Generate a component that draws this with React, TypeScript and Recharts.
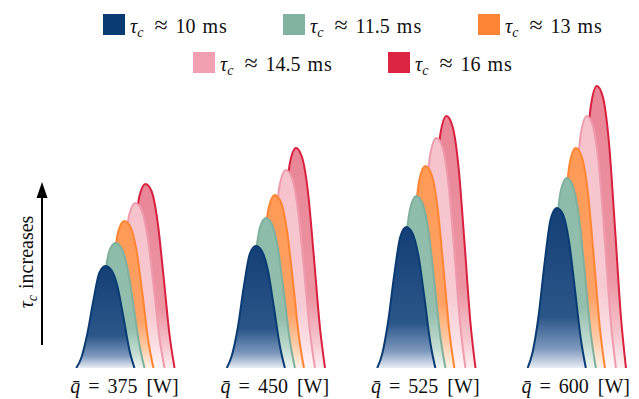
import { ComposedChart, Area, XAxis, YAxis } from "recharts";

// heat load groups (x positions in W)
const GROUPS = [375, 450, 525, 600];

// legend labels / colors, back-to-front order is reversed when drawing
const SERIES = ["10", "11.5", "13", "14.5", "16"];
const STROKES = ["#0b3b73", "#7fb09e", "#ff8533", "#ee9cad", "#d8203f"];
const SWATCH = ["#0b3b73", "#80b3a0", "#fe8536", "#f0a0b0", "#dc2542"];
const FILLS = [
  ["#143f77", "#2a5689", "#7d98bd", "#e8edf4"],
  ["#8dbcaa", "#94bfae", "#c2dcd1", "#f0f6f3"],
  ["#ff9a55", "#ffa266", "#ffcfad", "#fff2e8"],
  ["#f6c2cc", "#f7cad2", "#fbe1e6", "#fff6f8"],
  ["#e98596", "#ec95a3", "#f6c6ce", "#fdf0f2"],
];

// horizontal shift of each tau_c curve from the group position
const SHIFT = [-9.5, -4.5, 0, 5.5, 10.5];
// sample positions across one curve, relative to its peak
const OFFS = [-14.5, -12, -9, -6, -3, 0, 3, 6, 9, 12, 14.5];

// curve heights, [group][tau_c]
const q375 = [
  [0, 10, 34, 67, 95, 102, 98, 82, 51, 18, 0],
  [0, 13, 41, 83, 117, 125, 120, 100, 63, 23, 0],
  [0, 15, 49, 97, 137, 147, 141, 118, 74, 26, 0],
  [0, 17, 54, 109, 154, 165, 158, 132, 83, 30, 0],
  [0, 18, 61, 121, 172, 184, 177, 147, 92, 33, 0],
];
const q450 = [
  [0, 12, 40, 81, 114, 122, 117, 98, 61, 22, 0],
  [0, 15, 50, 99, 140, 150, 144, 120, 75, 27, 0],
  [0, 17, 57, 114, 161, 173, 166, 138, 87, 31, 0],
  [0, 20, 65, 131, 184, 198, 190, 158, 99, 36, 0],
  [0, 22, 73, 145, 205, 220, 211, 176, 110, 40, 0],
];
const q525 = [
  [0, 14, 47, 93, 131, 141, 135, 113, 71, 25, 0],
  [0, 17, 57, 114, 160, 172, 165, 138, 86, 31, 0],
  [0, 20, 67, 133, 188, 202, 194, 162, 101, 36, 0],
  [0, 23, 76, 152, 214, 230, 221, 184, 115, 41, 0],
  [0, 25, 83, 166, 234, 252, 242, 202, 126, 45, 0],
];
const q600 = [
  [0, 16, 53, 106, 149, 160, 154, 128, 80, 29, 0],
  [0, 19, 63, 125, 177, 190, 182, 152, 95, 34, 0],
  [0, 22, 73, 145, 205, 220, 211, 176, 110, 40, 0],
  [0, 25, 83, 166, 234, 252, 242, 202, 126, 45, 0],
  [0, 28, 93, 186, 262, 282, 271, 226, 141, 51, 0],
];
const HEIGHTS = [q375, q450, q525, q600];

const FONT = "Liberation Serif";

function QTick(props: any) {
  const { x, y, payload } = props;
  return (
    <text x={x} y={y + 17} textAnchor="middle" fontFamily={FONT} fontSize={20} fill="#111">
      <tspan fontStyle="italic">q̄</tspan>
      <tspan dx={8}>=</tspan>
      <tspan dx={8}>{payload.value}</tspan>
      <tspan dx={9}>[W]</tspan>
    </text>
  );
}

const LEGEND_POS = [
  [103, 14],
  [283, 14],
  [478, 14],
  [193, 52],
  [388, 52],
];

function Tau() {
  return (
    <>
      <i>τ</i>
      <i style={{ fontSize: 14, position: "relative", top: 4 }}>c</i>
    </>
  );
}

function LegendAndNotes() {
  return (
    <div style={{ position: "absolute", left: 0, top: 0, width: 639, height: 399, pointerEvents: "none", fontFamily: FONT, fontSize: 20, lineHeight: "20px", color: "#111" }}>
      {SERIES.map((s, i) => {
        const [lx, ly] = LEGEND_POS[i];
        return (
          <div key={s}>
            <div style={{ position: "absolute", left: lx, top: ly, width: 22, height: 21, background: SWATCH[i] }} />
            <div style={{ position: "absolute", left: lx + 27, top: ly + 1, whiteSpace: "nowrap" }}>
              <Tau />
              <span style={{ marginLeft: 11, fontSize: 24 }}>≈</span>
              <span style={{ marginLeft: 8 }}>{s}</span>
              <span style={{ marginLeft: 7, letterSpacing: 1 }}>ms</span>
            </div>
          </div>
        );
      })}
      <svg width={639} height={399} style={{ position: "absolute", left: 0, top: 0 }}>
        <line x1={42} y1={345} x2={42} y2={196} stroke="#000" strokeWidth={2} />
        <polygon points="42,182 36.5,198 47.5,198" fill="#000" />
      </svg>
      <div
        style={{
          position: "absolute",
          left: 27,
          top: 262,
          whiteSpace: "nowrap",
          transform: "translate(-50%, -50%) rotate(-90deg)",
        }}
      >
        <Tau />
        <span style={{ marginLeft: 6 }}>increases</span>
      </div>
    </div>
  );
}

export default function App() {
  const curves: { key: string; tau: number; data: { x: number; y: number }[] }[] = [];
  GROUPS.forEach((q, g) => {
    for (let t = SERIES.length - 1; t >= 0; t--) {
      const h = HEIGHTS[g][t];
      curves.push({
        key: `${q}-${t}`,
        tau: t,
        data: OFFS.map((o, k) => ({ x: q + SHIFT[t] + o, y: h[k] })),
      });
    }
  });

  return (
    <div style={{ position: "absolute", left: 0, top: 0, width: 639, height: 399, background: "#fff" }}>
      <ComposedChart width={639} height={399} margin={{ top: 0, right: 0, bottom: 0, left: 0 }}>
        <defs>
          {FILLS.map((f, i) => (
            <linearGradient key={i} id={`fill-${i}`} x1="0" y1="0" x2="0" y2="1">
              <stop offset="0%" stopColor={f[0]} />
              <stop offset="68%" stopColor={f[1]} />
              <stop offset="88%" stopColor={f[2]} />
              <stop offset="100%" stopColor={f[3]} />
            </linearGradient>
          ))}
        </defs>
        <XAxis
          dataKey="x"
          type="number"
          domain={[313, 631.5]}
          allowDataOverflow
          ticks={GROUPS}
          tick={<QTick />}
          axisLine={false}
          tickLine={false}
          height={31}
        />
        <YAxis hide type="number" domain={[0, 368]} allowDataOverflow />
        {curves.map((c) => (
          <Area
            key={c.key}
            data={c.data}
            dataKey="y"
            type="monotone"
            stroke={STROKES[c.tau]}
            strokeWidth={2}
            fill={`url(#fill-${c.tau})`}
            fillOpacity={1}
            dot={false}
            activeDot={false}
            isAnimationActive={false}
          />
        ))}
      </ComposedChart>
      <LegendAndNotes />
    </div>
  );
}
